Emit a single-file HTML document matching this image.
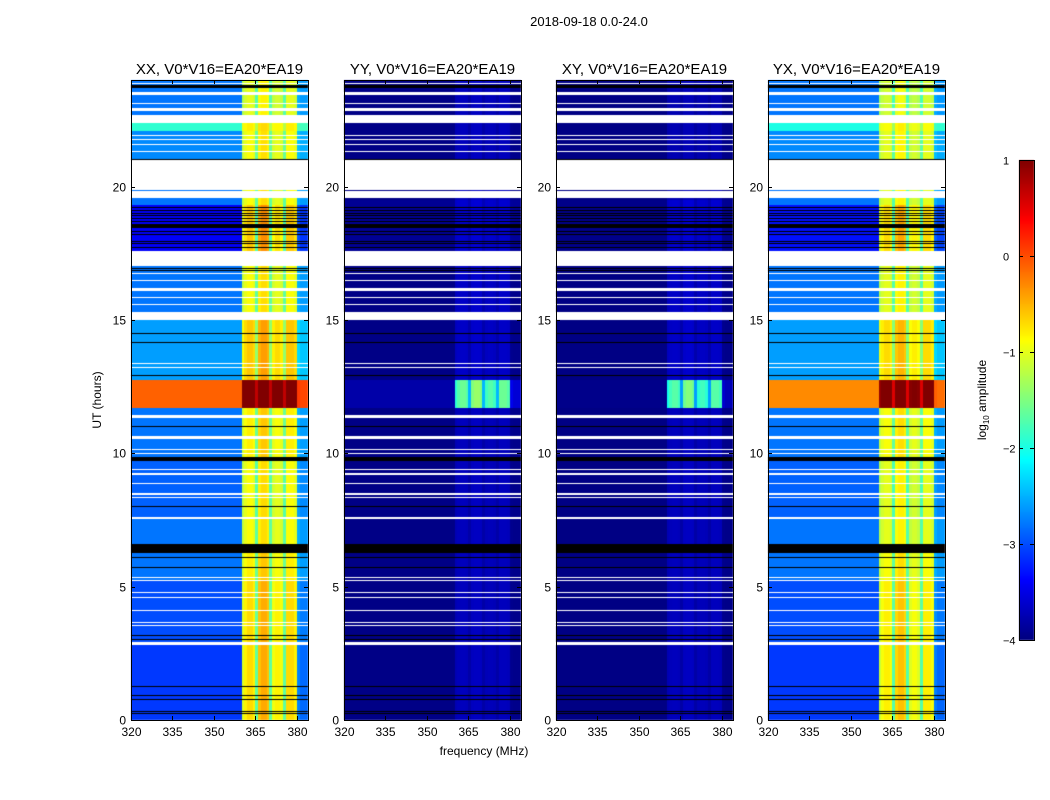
<!DOCTYPE html>
<html><head><meta charset="utf-8">
<style>
body{margin:0;background:#fff;font-family:"Liberation Sans",sans-serif;}
#wrap{position:relative;width:1050px;height:800px;overflow:hidden;background:#fff;}
canvas{position:absolute;left:0;top:0;}
svg{position:absolute;left:0;top:0;}
text{font-family:"Liberation Sans",sans-serif;fill:#000;}
</style></head>
<body>
<div id="wrap">
<canvas id="cv" width="1050" height="800"></canvas>
<svg id="sv" width="1050" height="800"></svg>
</div>
<script>
// ---- data ----
const panelTitles = ["XX, V0*V16=EA20*EA19","YY, V0*V16=EA20*EA19","XY, V0*V16=EA20*EA19","YX, V0*V16=EA20*EA19"];
const freqStart = 320;            // MHz, 1 MHz channels
const freqProfile = [0,0,0,0,0,0,0,0,0,0, 0,0,0,0,0,0,0,0,0,0, 0,0,0,0,0,0,0,0,0,0, 0,0,0,0,0,0,0,0,0,0,
  0.85,0.95,1,1,0.95, 0.6, 1.05,1.1,1.1,1.05, 0.6, 0.9,0.95,0.95,0.9, 0.6, 1,1,1,0.95, 0.15,0.1,0.1,0.1];
const xTicks = [320,335,350,365,380];
const yTicks = [0,5,10,15,20];
const cbTicks = [1,0,-1,-2,-3,-4];
// segments: [tStart, tEnd, lowBandLevel, inBandLevel] (log10 amplitude)
const segXX = [[0,2.8,-3.1,-0.7],[2.8,5.2,-3.0,-0.7],[5.2,6.25,-2.8,-0.8],[6.25,7.6,-2.8,-0.9],[7.6,9.7,-2.9,-0.9],
  [9.7,11.7,-2.8,-0.8],[11.7,12.75,-0.1,1.2],[12.75,15.0,-2.6,-0.6],[15.0,17.6,-2.8,-0.9],[17.6,19.3,-3.4,-0.6],
  [19.3,21.0,-2.8,-0.9],[21.0,22.1,-2.7,-0.9],[22.1,22.4,-1.9,-0.8],[22.4,24,-2.8,-1.0]];
const segYY = [[0,11.7,-3.97,-3.7],[11.7,12.75,-3.8,-1.6],[12.75,17.6,-3.97,-3.65],[17.6,19.5,-3.9,-3.6],[19.5,24,-3.97,-3.7]];
const segXY = [[0,11.7,-3.98,-3.7],[11.7,12.75,-3.95,-1.7],[12.75,17.6,-3.98,-3.65],[17.6,19.5,-3.95,-3.6],[19.5,24,-3.98,-3.75]];
const segYX = [[0,2.8,-3.1,-0.8],[2.8,5.2,-3.0,-0.8],[5.2,6.25,-2.8,-0.9],[6.25,7.6,-2.8,-1.0],[7.6,9.7,-2.9,-1.0],
  [9.7,11.7,-2.8,-0.9],[11.7,12.75,-0.3,1.1],[12.75,15.0,-2.6,-0.7],[15.0,17.6,-2.8,-1.0],[17.6,19.3,-3.3,-0.7],
  [19.3,21.0,-2.8,-1.0],[21.0,22.1,-2.7,-1.0],[22.1,22.4,-2.0,-0.9],[22.4,24,-2.8,-1.1]];
const whiteRanges = [[2.8,2.92],[3.5,3.55],[3.62,3.67],[4.07,4.12],[4.55,4.6],[4.75,4.8],[5.2,5.25],[5.3,5.35],[7.55,7.62],
  [8.3,8.35],[8.45,8.52],[8.85,8.9],[9.2,9.27],[9.35,9.4],[9.95,10.0],[10.1,10.15],[10.55,10.65],[11.35,11.45],
  [13.2,13.25],[13.35,13.4],[15.0,15.3],[15.55,15.6],[15.8,15.85],[16.1,16.2],[16.45,16.5],[16.7,16.75],[17.05,17.6],
  [19.55,19.82],[19.88,21.0],[21.3,21.35],[21.55,21.6],[21.75,21.8],[21.9,21.95],[22.4,22.7],[22.85,22.95],
  [23.1,23.15],[23.45,23.55],[23.85,23.9]];
const blackRanges = [[0.22,0.25],[0.29,0.32],[0.77,0.8],[0.88,0.92],[1.25,1.29],[2.98,3.02],[3.16,3.2],[5.71,5.75],
  [6.08,6.12],[6.25,6.6],[7.98,8.02],[9.7,9.85],[10.98,11.02],[12.88,12.92],[14.13,14.18],[14.48,14.52],[16.83,16.87],
  [16.9,16.94],[17.68,17.72],[17.85,17.88],[17.95,17.98],[18.2,18.23],[18.3,18.33],[18.45,18.6],[18.7,18.73],
  [18.8,18.83],[18.9,18.93],[19.0,19.03],[19.1,19.13],[19.2,19.23],[20.98,21.02],[23.7,23.82]];
const panelSegs = [segXX, segYY, segXY, segYX];

// ---- layout ----
const panelX = [131,344,556,768], PW = 177, PT = 80, PH = 640;
const fMin = 320, fMax = 384, tMin = 0, tMax = 24, vMin = -4, vMax = 1;
function xOf(p,f){return panelX[p] + (f-fMin)/(fMax-fMin)*PW;}
function yOf(t){return PT + PH - (t-tMin)/(tMax-tMin)*PH;}
function jet(v){
  let x = Math.max(0,Math.min(1,(v-vMin)/(vMax-vMin)));
  const c = a=>Math.round(255*Math.max(0,Math.min(1,a)));
  return `rgb(${c(1.5-Math.abs(4*x-3))},${c(1.5-Math.abs(4*x-2))},${c(1.5-Math.abs(4*x-1))})`;
}
const ctx = document.getElementById('cv').getContext('2d');
panelSegs.forEach((segs,p)=>{
  segs.forEach(s=>{
    const y0 = Math.round(yOf(s[1])), y1 = Math.round(yOf(s[0]));
    freqProfile.forEach((pr,i)=>{
      const v = s[2] + pr*(s[3]-s[2]);
      const xa = Math.round(xOf(p,freqStart+i)), xb = Math.round(xOf(p,freqStart+i+1));
      ctx.fillStyle = jet(v);
      ctx.fillRect(xa, y0, xb-xa, y1-y0);
    });
  });
  whiteRanges.forEach(r=>{ctx.fillStyle='#fff';ctx.fillRect(panelX[p], Math.round(yOf(r[1])), PW, Math.max(1,Math.round(yOf(r[0])-yOf(r[1]))));});
  blackRanges.forEach(r=>{ctx.fillStyle='#000';ctx.fillRect(panelX[p], Math.round(yOf(r[1])), PW, Math.max(1,Math.round(yOf(r[0])-yOf(r[1]))));});
});
// colorbar
const CBX = 1019, CBW = 15, CBT = 160, CBH = 480;
for(let k=0;k<CBH;k++){ctx.fillStyle = jet(vMax - (k+0.5)/CBH*(vMax-vMin)); ctx.fillRect(CBX, CBT+k, CBW, 1);}

// ---- axes (svg) ----
const NS = "http://www.w3.org/2000/svg", sv = document.getElementById('sv');
function mk(tag, attrs, txt){const e=document.createElementNS(NS,tag);for(const k in attrs)e.setAttribute(k,attrs[k]);if(txt!==undefined)e.textContent=txt;sv.appendChild(e);return e;}
let e = mk('text',{x:589,y:26,'text-anchor':'middle','font-size':13},"2018-09-18 0.0-24.0");


panelX.forEach((px,p)=>{
  const fr = mk('rect',{x:px+0.5,y:PT+0.5,width:PW,height:PH,fill:'none',stroke:'#000','stroke-width':1});
  
  
  const tt = mk('text',{x:px+PW/2,y:74,'text-anchor':'middle','font-size':15},panelTitles[p]);
  
  
  xTicks.forEach(f=>{
    const x = Math.round(xOf(p,f))+0.5;
    mk('line',{x1:x,x2:x,y1:PT+PH,y2:PT+PH-4,stroke:'#000'});
    mk('line',{x1:x,x2:x,y1:PT,y2:PT+4,stroke:'#000'});
    const l = mk('text',{x:x,y:736,'text-anchor':'middle','font-size':12},String(f));
    
    
  });
  yTicks.forEach(t=>{
    const y = Math.round(yOf(t))+0.5;
    mk('line',{x1:px,x2:px+4,y1:y,y2:y,stroke:'#000'});
    mk('line',{x1:px+PW,x2:px+PW-4,y1:y,y2:y,stroke:'#000'});
    const l = mk('text',{x:px-5,y:y+4,'text-anchor':'end','font-size':12},String(t));
    
    
  });
});
e = mk('text',{x:484,y:755,'text-anchor':'middle','font-size':12},"frequency (MHz)");


e = mk('text',{x:101,y:400,'text-anchor':'middle','font-size':12,transform:'rotate(-90 101 400)'},"UT (hours)");


e = mk('rect',{x:CBX+0.5,y:CBT+0.5,width:CBW,height:CBH,fill:'none',stroke:'#000'});


cbTicks.forEach(v=>{
  const y = Math.round(CBT + (vMax-v)/(vMax-vMin)*CBH)+0.5;
  mk('line',{x1:CBX+CBW-4,x2:CBX+CBW,y1:y,y2:y,stroke:'#000'});
  mk('line',{x1:CBX,x2:CBX+4,y1:y,y2:y,stroke:'#000'});
  const l = mk('text',{x:1003,y:y+4,'font-size':11},v<0?'\u2212'+Math.abs(v):String(v));
  
  
});
e = mk('text',{x:986,y:400,'text-anchor':'middle','font-size':12,transform:'rotate(-90 986 400)'});


e.innerHTML = 'log<tspan font-size="8" dy="3">10</tspan><tspan dy="-3"> amplitude</tspan>';
</script>
</body></html>
